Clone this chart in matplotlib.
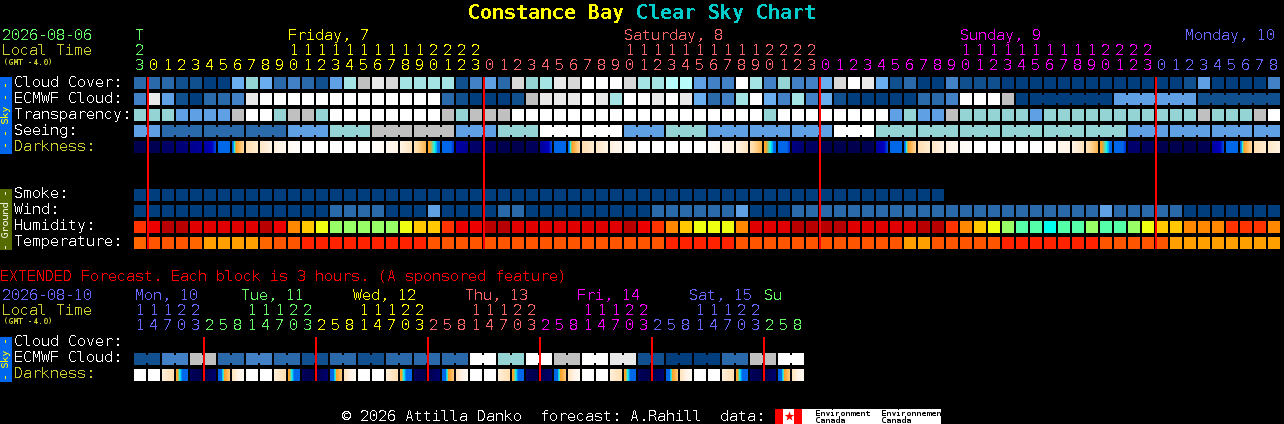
"""
Clear sky chart for Constance Bay, drawn on a 1284x424 pixel canvas.
"""

import matplotlib
matplotlib.use("Agg")
import matplotlib.pyplot as plt
from matplotlib.colors import LinearSegmentedColormap
import numpy as np

# crisp one pixel strokes, closer to the bitmap font of the original
plt.rcParams["text.hinting"] = "native"
plt.rcParams["text.hinting_factor"] = 1

# ── DATA ──────────────────────────────────────────────────────────────────────
# indices into SKY_PALETTE
CLOUD_COVER = [2, 2, 2, 1, 1, 0, 0, 5, 6, 5, 2, 3, 2, 1, 4, 7, 9, 11, 10, 7, 7,
               7, 7, 1, 3, 4, 2, 10, 6, 7, 11, 10, 12, 12, 12, 10, 7, 7, 8, 8, 4, 3, 3, 12, 7, 3, 6, 3, 3, 5, 10, 12,
               11, 5, 1, 2, 0, 0, 3, 1, 1, 1, 0, 0, 0, 0, 0, 0, 0, 0, 0, 0, 0, 0, 0, 1, 4, 0, 0, 0, 0, 3]
ECMWF_CLOUD = [3, 11, 4, 1, 0, 2, 2, 3, 11, 12, 12, 12, 12, 12, 12, 12, 12, 12, 12, 12, 12,
               12, 2, 1, 0, 0, 0, 1, 9, 11, 11, 11, 12, 11, 7, 12, 12, 11, 12, 11, 5, 2, 3, 7, 12, 5, 3, 7, 3, 5, 1, 0,
               0, 0, 0, 0, 2, 2, 3, 12, 12, 12, 9, 0, 0, 0, 0, 0, 0, 0, 4, 4, 4, 4, 4, 4, 1, 1, 1, 1, 1, 1]
ECMWF_MERGED = [(64, 69), (70, 75), (76, 81)]
TRANSPARENCY = [6, 6, 6, 4, 4, 4, 4, 9, 12, 12, 6, 9, 9, 6, 12, 12, 12, 12, 12, 12, 12,
                12, 9, 6, 9, 9, 9, 12, 12, 12, 12, 12, 12, 12, 12, 12, 12, 12, 12, 12, 12, 12, 12, 12, 12, 6, 12, 12,
                12, 12, 12, 12, 12, 12, 4, 6, 4, 4, 9, 6, 6, 6, 6, 6, 4, 6, 6, 6, 6, 6, 6, 6, 6, 6, 6, 6, 9, 6, 6, 6, 9, 12]
# seeing comes in 3 hour blocks: (first cell, last cell, palette index)
SEEING = [(0, 1, 4), (2, 4, 2), (5, 7, 2), (8, 10, 2), (11, 13, 4), (14, 16, 6), (17, 19, 9), (20, 22, 9),
          (23, 25, 4), (26, 28, 6), (29, 31, 12), (32, 34, 12), (35, 37, 4), (38, 40, 6), (41, 43, 4), (44, 46, 4),
          (47, 49, 4), (50, 52, 12), (53, 55, 6), (56, 58, 6), (59, 61, 6), (62, 64, 6), (65, 67, 6), (68, 70, 6),
          (71, 73, 4), (74, 76, 4), (77, 79, 4), (80, 81, 4)]
# darkness: value at the left and right edge of each block
DARK_LEFT = [0, .01, .04, .07, .10, .14, .27, .29, .50, .58, .66, .85, 1, 1, 1, 1, 1, .95, .8, .7, .52, .36, .30, .16, .05, .03,
             0, 0, .02, .12, .27, .29, .50, .58, .66, .85, 1, 1, 1, 1, 1, .95, .8, .7, .52, .36, .30, .08, .03, 0, 0, 0,
             .01, .14, .27, .29, .50, .58, .68, .88, 1, 1, 1, 1, 1, .95, .8, .7, .52, .36, .30, .05, .02, 0, 0, 0, .01, .14, .27, .29, .50, .58]
DARK_RIGHT = [0, .01, .04, .07, .12, .23, .28, .48, .62, .70, .80, .95, 1, 1, 1, 1, 1, .85, .7, .55, .40, .29, .22, .10, .03, .03,
              0, 0, .02, .23, .28, .48, .62, .70, .80, .95, 1, 1, 1, 1, 1, .85, .7, .55, .40, .29, .22, .05, .03, 0, 0, 0,
              .01, .23, .28, .48, .62, .70, .80, .95, 1, 1, 1, 1, 1, .88, .7, .55, .40, .29, .22, .05, .02, 0, 0, 0, .01, .23, .28, .48, .62, .68]

SMOKE = [0, 0, 0, 0, 0, 0, 0, 0, 0, 0, 0, 0, 0, 0, 0, 0, 0, 0, 0, 0, 0, 0, 0, 0, 0, 0, 0, 0, 0,
         0, 0, 0, 0, 0, 0, 0, 0, 0, 0, 0, 0, 0, 0, 0, 0, 0, 0, 0, 0, 0, 0, 0, 0, 0, 0, 0, 0, 0]
WIND = [0, 0, 0, 0, 0, 0, 0, 0, 0, 0, 0, 0, 0, 0, 2, 2, 2, 2, 0, 0, 0,
        4, 0, 0, 0, 0, 2, 2, 0, 0, 0, 0, 0, 0, 0, 0, 0, 2, 2, 2, 2, 2, 2, 4, 0, 0, 0, 2, 2, 2, 2, 2,
        2, 2, 2, 2, 2, 2, 2, 2, 2, 2, 2, 2, 2, 2, 2, 2, 2, 4, 2, 2, 2, 2, 2, 0, 0, 0, 0, 0, 0, 0]
HUMIDITY = [3, 2, 0, 0, 1, 1, 1, 1, 1, 0, 2, 4, 5, 6, 7, 7, 7, 7, 7, 6, 5,
            5, 3, 2, 2, 0, 0, 1, 1, 1, 1, 1, 1, 1, 1, 0, 2, 3, 4, 5, 6, 6, 6, 4, 1, 1, 1, 0, 0, 0, 0, 1,
            1, 1, 1, 1, 0, 0, 3, 4, 5, 6, 7, 8, 8, 9, 8, 8, 7, 8, 8, 7, 6, 5, 5, 4, 4, 4, 3, 3, 3, 4]
TEMPERATURE = [2, 1, 1, 1, 2, 3, 3, 3, 3, 2, 1, 1, 0, 0, 0, 0, 0, 0, 0, 0, 0,
               1, 1, 1, 1, 1, 1, 1, 1, 1, 1, 1, 1, 1, 1, 1, 1, 1, 0, 0, 0, 0, 0, 1, 1, 1, 1, 1, 1, 1, 1, 1,
               1, 1, 1, 3, 3, 1, 1, 1, 1, 1, 0, 0, 0, 0, 0, 0, 0, 1, 1, 1, 1, 1, 3, 3, 3, 3, 3, 3, 3, 3]

EXT_ECMWF = [1, 3, 9, 2, 3, 2, 1, 2, 1, 2, 2, 2, 12, 6, 12, 9, 12, 11, 1, 0, 0, 2, 9, 12]  # 6 hour pairs
EXT_DARK_LEFT = [1, 1, .65, .36, .02, 0, .24, .55, 1, 1, .65, .36, .02, 0, .24, .55,
                 1, 1, .65, .36, .02, 0, .24, .55, 1, 1, .65, .36, .02, 0, .24, .55,
                 1, 1, .65, .36, .02, 0, .24, .55, 1, 1, .65, .36, .02, 0, .24, .55]
EXT_DARK_RIGHT = [1, 1, .50, .24, 0, .05, .44, .85, 1, 1, .50, .24, 0, .05, .44, .85,
                  1, 1, .50, .24, 0, .05, .44, .85, 1, 1, .50, .24, 0, .05, .44, .85,
                  1, 1, .50, .24, 0, .05, .44, .85, 1, 1, .50, .24, 0, .05, .44, .85]

HOURS = [23, 0, 1, 2, 3, 4, 5, 6, 7, 8, 9, 10, 11, 12, 13, 14, 15, 16, 17, 18, 19, 20, 21, 22, 23,
         0, 1, 2, 3, 4, 5, 6, 7, 8, 9, 10, 11, 12, 13, 14, 15, 16, 17, 18, 19, 20, 21, 22, 23,
         0, 1, 2, 3, 4, 5, 6, 7, 8, 9, 10, 11, 12, 13, 14, 15, 16, 17, 18, 19, 20, 21, 22, 23,
         0, 1, 2, 3, 4, 5, 6, 7, 8]
EXT_HOURS = [11, 14, 17, 20, 23, 2, 5, 8, 11, 14, 17, 20, 23, 2, 5, 8, 11, 14, 17, 20, 23, 2, 5, 8,
             11, 14, 17, 20, 23, 2, 5, 8, 11, 14, 17, 20, 23, 2, 5, 8, 11, 14, 17, 20, 23, 2, 5, 8]

# ── STYLE ─────────────────────────────────────────────────────────────────────
SKY_PALETTE = ["#003E7E", "#10508F", "#2A6AAB", "#4381C6", "#5F9FE3", "#6BAEF0", "#94D4D4",
               "#A4E4E4", "#B8FBFB", "#C0C0C0", "#D8D8D8", "#E9E9E9", "#FFFFFF"]
HUMIDITY_PALETTE = ["#B80000", "#E00000", "#EC0000", "#FF3300", "#FF8800",
                    "#FFC800", "#EEFF11", "#99FF66", "#55FFAA", "#00FFEE"]
TEMPERATURE_PALETTE = ["#FF2200", "#FF5500", "#FF6600", "#FFA000"]

GREEN, YELLOW, SALMON, MAGENTA, BLUE = "#66FF66", "#FFFF00", "#FF6666", "#FF00FF", "#6666FF"
OLIVE_TEXT = "#CCCC33"

dark_cmap = LinearSegmentedColormap.from_list("darkness", [
    (0.00, "#00004E"), (0.10, "#000090"), (0.20, "#0000C0"), (0.24, "#0068E8"), (0.30, "#0068E8"),
    (0.32, "#00FFFF"), (0.35, "#FFA020"), (0.50, "#FFDFB0"), (0.70, "#FFF4E6"), (1.00, "#FFFFFF"),
])

X0, PITCH, SIZE = 134, 14, 12
MONO = "DejaVu Sans Mono"


def label(ax, x, y, s, color="white", size=10.8, aliased=True, **kw):
    kw.setdefault("ha", "left")
    kw.setdefault("va", "baseline")
    ax.text(x, y, s, color=color, fontsize=size, family=MONO, antialiased=not aliased, **kw)


def cell_x(i):
    return X0 + PITCH * np.asarray(i)


def draw_cells(ax, y, values, palette):
    colors = [palette[v] for v in values]
    ax.bar(cell_x(np.arange(len(values))), SIZE, bottom=y, width=SIZE, align="edge",
           color=colors, linewidth=0, antialiased=False)


def draw_bridge(ax, y, first, last, color):
    # same value blocks are joined by a short bar across the gap
    for i in range(first, last):
        ax.bar(cell_x(i) + SIZE, 8, bottom=y + 2, width=2, align="edge",
               color=color, linewidth=0, antialiased=False)


def draw_darkness(ax, y, left, right):
    for i, (a, b) in enumerate(zip(left, right)):
        x = cell_x(i)
        ax.imshow(np.linspace(a, b, SIZE)[None, :], extent=(x, x + SIZE, y + SIZE, y),
                  cmap=dark_cmap, vmin=0, vmax=1, aspect="auto", interpolation="nearest")


def draw_hours(ax, hours, colors, tens_y, unit_y):
    for i, h in enumerate(hours):
        x = cell_x(i) + SIZE / 2
        label(ax, x, unit_y, str(h % 10), colors[i], ha="center")
        if h >= 10:
            label(ax, x, tens_y, str(h // 10), colors[i], ha="center")


def main():
    fig = plt.figure(figsize=(12.84, 4.24), dpi=100, facecolor="black")
    ax = fig.add_axes([0, 0, 1, 1])
    ax.set_facecolor("black")
    ax.axis("off")

    # ── title ─────────────────────────────────────────────────────────────────
    label(ax, 468, 19, "Constance Bay", YELLOW, size=14.4, fontweight="bold")
    label(ax, 636, 19, "Clear Sky Chart", "#00CCCC", size=14.4, fontweight="bold")

    # ── main header ───────────────────────────────────────────────────────────
    label(ax, 2, 40, "2026-08-06", GREEN)
    label(ax, 2, 55, "Local Time", OLIVE_TEXT)
    label(ax, 3, 65, "(GMT -4.0)", OLIVE_TEXT, size=5.8, aliased=False)
    label(ax, 135, 40, "T", GREEN)
    label(ax, 288, 40, "Friday, 7", YELLOW)
    label(ax, 624, 40, "Saturday, 8", SALMON)
    label(ax, 960, 40, "Sunday, 9", MAGENTA)
    label(ax, 1185, 40, "Monday, 10", BLUE)
    hour_colors = [GREEN] + [YELLOW] * 24 + [SALMON] * 24 + [MAGENTA] * 24 + [BLUE] * 9
    draw_hours(ax, HOURS, hour_colors, 55, 70)

    # ── sky block ─────────────────────────────────────────────────────────────
    for y, s, c in [(87, "Cloud Cover:", "white"), (103, "ECMWF Cloud:", "white"),
                    (119, "Transparency:", "white"), (135, "Seeing:", "white"),
                    (151, "Darkness:", OLIVE_TEXT)]:
        label(ax, 14, y, s, c)

    draw_cells(ax, 77, CLOUD_COVER, SKY_PALETTE)
    draw_cells(ax, 93, ECMWF_CLOUD, SKY_PALETTE)
    for first, last in ECMWF_MERGED:
        draw_bridge(ax, 93, first, last, SKY_PALETTE[ECMWF_CLOUD[first]])
    draw_cells(ax, 109, TRANSPARENCY, SKY_PALETTE)
    for first, last, v in SEEING:
        for i in range(first, last + 1):
            ax.bar(cell_x(i), SIZE, bottom=125, width=SIZE, align="edge",
                   color=SKY_PALETTE[v], linewidth=0, antialiased=False)
        draw_bridge(ax, 125, first, last, SKY_PALETTE[v])
    draw_darkness(ax, 141, DARK_LEFT, DARK_RIGHT)

    # ── ground block ──────────────────────────────────────────────────────────
    for y, s in [(198, "Smoke:"), (214, "Wind:"), (230, "Humidity:"), (246, "Temperature:")]:
        label(ax, 14, y, s)
    draw_cells(ax, 189, SMOKE, SKY_PALETTE)
    draw_cells(ax, 205, WIND, SKY_PALETTE)
    draw_cells(ax, 221, HUMIDITY, HUMIDITY_PALETTE)
    draw_cells(ax, 237, TEMPERATURE, TEMPERATURE_PALETTE)

    # midnight markers
    ax.bar([147, 483, 819, 1155], 172, bottom=77, width=2, align="edge",
           color="#FF0000", linewidth=0, antialiased=False, zorder=5)

    # ── side bars ─────────────────────────────────────────────────────────────
    for y0, y1, fc, tc, s in [(77, 154, "#0066EE", YELLOW, "- - Sky - -"),
                              (189, 250, "#556B00", "#F0F0E0", "- Ground -"),
                              (337, 382, "#0066EE", YELLOW, "- Sky -")]:
        ax.bar(0, y1 - y0, bottom=y0, width=12, align="edge", color=fc, linewidth=0, antialiased=False)
        label(ax, 6, (y0 + y1) / 2, s, tc, size=7.4, aliased=False, rotation=90, ha="center", va="center")

    # ── extended forecast ─────────────────────────────────────────────────────
    label(ax, 0, 281, "EXTENDED Forecast. Each block is 3 hours. (A sponsored feature)", "#FF0000")
    label(ax, 2, 300, "2026-08-10", BLUE)
    label(ax, 2, 315, "Local Time", OLIVE_TEXT)
    label(ax, 3, 324, "(GMT -4.0)", OLIVE_TEXT, size=5.8, aliased=False)
    for x, s, c in [(135, "Mon, 10", BLUE), (241, "Tue, 11", GREEN), (353, "Wed, 12", YELLOW),
                    (465, "Thu, 13", SALMON), (577, "Fri, 14", MAGENTA), (689, "Sat, 15", BLUE),
                    (764, "Su", GREEN)]:
        label(ax, x, 300, s, c)
    ext_colors = [BLUE] * 5 + [GREEN] * 8 + [YELLOW] * 8 + [SALMON] * 8 + [MAGENTA] * 8 + [BLUE] * 8 + [GREEN] * 3
    draw_hours(ax, EXT_HOURS, ext_colors, 315, 330)

    for y, s, c in [(346, "Cloud Cover:", "white"), (362, "ECMWF Cloud:", "white"), (378, "Darkness:", OLIVE_TEXT)]:
        label(ax, 14, y, s, c)
    for n, v in enumerate(EXT_ECMWF):
        first = 2 * n
        ax.bar(cell_x([first, first + 1]), SIZE, bottom=353, width=SIZE, align="edge",
               color=SKY_PALETTE[v], linewidth=0, antialiased=False)
        draw_bridge(ax, 353, first, first + 1, SKY_PALETTE[v])
    draw_darkness(ax, 369, EXT_DARK_LEFT, EXT_DARK_RIGHT)
    ax.bar([203, 315, 427, 539, 651, 763], 44, bottom=337, width=2, align="edge",
           color="#FF0000", linewidth=0, antialiased=False, zorder=5)

    # ── footer ────────────────────────────────────────────────────────────────
    label(ax, 342, 421, "© 2026 Attilla Danko  forecast: A.Rahill  data:")
    ax.bar(775, 15, bottom=409, width=166, align="edge", color="white", linewidth=0, antialiased=False)
    ax.bar([775, 794], 15, bottom=409, width=8, align="edge", color="#FF0000", linewidth=0, antialiased=False)
    ax.scatter([788.5], [416], marker="*", s=55, color="#FF0000", linewidths=0, zorder=3)
    for x, s in [(815, "Environment"), (881, "Environnement")]:
        label(ax, x, 416, s, "black", size=5.5, aliased=False, zorder=4)
        label(ax, x, 423, "Canada", "black", size=5.5, aliased=False, zorder=4)

    ax.set_xlim(0, 1284)
    ax.set_ylim(424, 0)
    fig.savefig("out.png", dpi=100, facecolor="black")


if __name__ == "__main__":
    main()
